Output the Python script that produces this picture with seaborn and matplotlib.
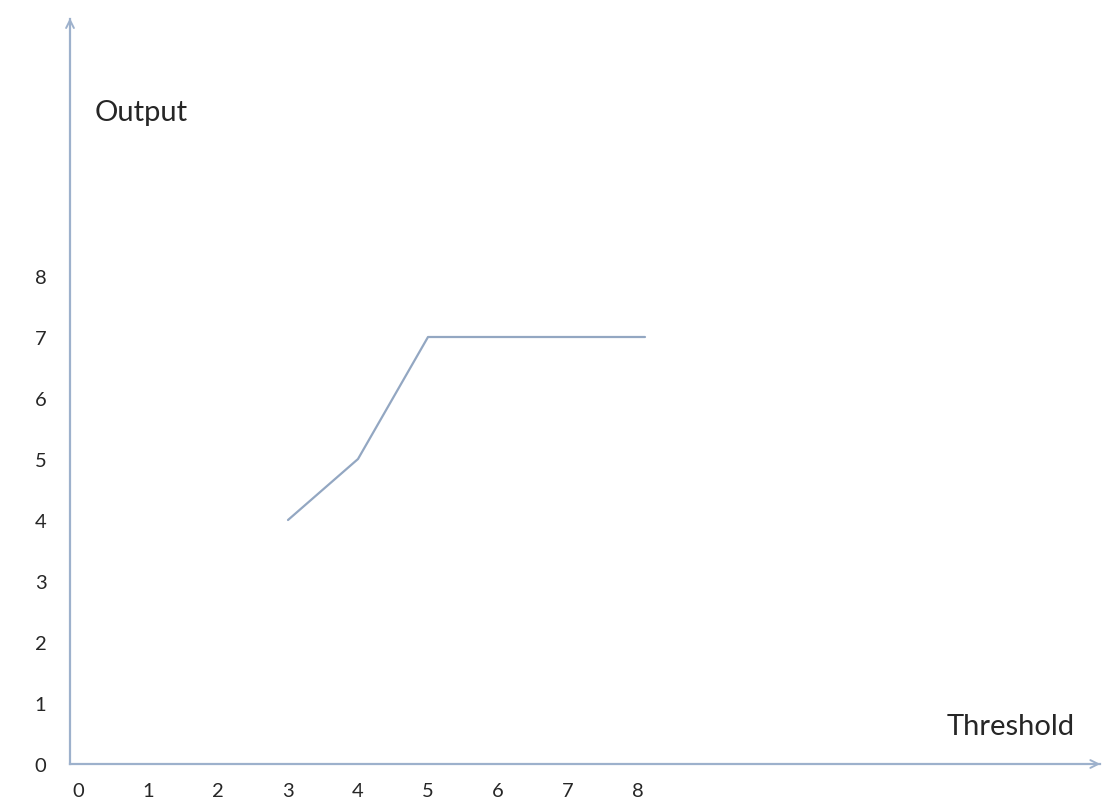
import seaborn as sns
import pandas as pd
import matplotlib.pyplot as plt

# Datos
threshold = [3, 4, 5, 8.1]
output = [4, 5, 7, 7]
x_ticks = [0, 1, 2, 3, 4, 5, 6, 7, 8]
y_ticks = [0, 1, 2, 3, 4, 5, 6, 7, 8]

data = pd.DataFrame({'Threshold': threshold, 'Output': output})

sns.set_style("white")
plt.rcParams['font.family'] = ['Lato', 'DejaVu Sans']

axis_color = '#9DB1CC'
line_color = '#93A7C2'
text_color = '#262626'

W, H = 1107, 804
fig = plt.figure(figsize=(W / 100, H / 100), dpi=100)

# Ejes en píxeles: eje Y en x=70, eje X en y=765
left, right, top, bottom = 70, 1100, 20, 765
ax = fig.add_axes([left / W, 1 - bottom / H, (right - left) / W, (bottom - top) / H])

sns.lineplot(data=data, x='Threshold', y='Output', ax=ax, color=line_color,
             linewidth=1.6, estimator=None, sort=False)

# Escalas: 70 px por unidad en X (0 en x=78), 61 px por unidad en Y
ax.set_xlim(-8 / 70, (right - 78) / 70)
ax.set_ylim(0, (bottom - top) / 61)

for s in ['top', 'right']:
    ax.spines[s].set_visible(False)
for s in ['left', 'bottom']:
    ax.spines[s].set_color(axis_color)
    ax.spines[s].set_linewidth(1.6)

# Flechas en los extremos de los ejes
ax.annotate('', xy=(0, 1.005), xytext=(0, 0.97), xycoords='axes fraction',
            arrowprops=dict(arrowstyle='->', color=axis_color, lw=1.4,
                            mutation_scale=14), annotation_clip=False)
ax.annotate('', xy=(1.003, 0), xytext=(0.98, 0), xycoords='axes fraction',
            arrowprops=dict(arrowstyle='->', color=axis_color, lw=1.4,
                            mutation_scale=14), annotation_clip=False)

ax.set_xticks(x_ticks)
ax.set_yticks(y_ticks)
ax.set_xticklabels([str(t) for t in x_ticks])
ax.set_yticklabels([str(t) for t in y_ticks])
ax.tick_params(axis='x', length=0, pad=13, labelsize=14.5, labelcolor=text_color)
ax.tick_params(axis='y', length=0, pad=17, labelsize=14.5, labelcolor=text_color)

ax.set_xlabel('')
ax.set_ylabel('')

# Etiquetas de los ejes como texto libre
fig.text(95 / W, 1 - 113 / H, 'Output', fontsize=21, color=text_color,
         ha='left', va='center')
fig.text(1075 / W, 1 - 727 / H, 'Threshold', fontsize=21, color=text_color,
         ha='right', va='center')

fig.savefig('out.png', dpi=100)
